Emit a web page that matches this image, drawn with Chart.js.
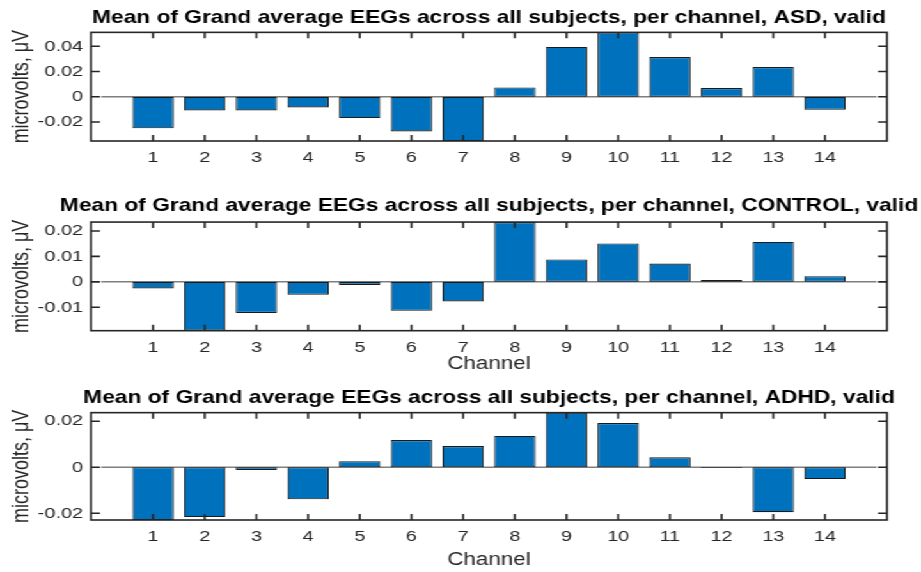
<!DOCTYPE html>
<html>
<head>
<meta charset="utf-8">
<script src="https://cdn.jsdelivr.net/npm/chart.js@4.4.1/dist/chart.umd.min.js"></script>
<style>
  html, body { margin: 0; padding: 0; background: #ffffff; width: 921px; height: 572px; overflow: hidden; }
  /* the figure is laid out 720px wide and widened to the page width */
  #figure { position: absolute; left: 0; top: 0; width: 720px; height: 572px;
            transform-origin: 0 0; transform: scaleX(1.27917); }
  #figure canvas { display: block; }
</style>
</head>
<body>
<div id="figure">
  <canvas id="asd" width="720" height="186"></canvas>
  <canvas id="control" width="720" height="192"></canvas>
  <canvas id="adhd" width="720" height="194"></canvas>
</div>
<script>
// EEG channels 1..14
const channels = [1, 2, 3, 4, 5, 6, 7, 8, 9, 10, 11, 12, 13, 14];
const channelLabels = ['1', '2', '3', '4', '5', '6', '7', '8', '9', '10', '11', '12', '13', '14'];

// mean of grand-average EEG per channel (microvolts)
const asdMeans     = [-0.0250, -0.0108, -0.0108, -0.0084, -0.0168, -0.0274, -0.0350,
                       0.0074,  0.0395,  0.0510,  0.0314,  0.0069,  0.0235, -0.0103];
const controlMeans = [-0.0026, -0.0192, -0.0122, -0.0051, -0.0012, -0.0114, -0.0077,
                       0.0235,  0.0088,  0.0151,  0.0072,  0.0007,  0.0157,  0.0022];
const adhdMeans    = [-0.0229, -0.0216, -0.0012, -0.0139,  0.0026,  0.0118,  0.0092,
                       0.0136,  0.0237,  0.0192,  0.0043, -0.0003, -0.0195, -0.0051];

const panelTitles = [
  'Mean of Grand average EEGs across all subjects, per channel, ASD, valid',
  'Mean of Grand average EEGs across all subjects, per channel, CONTROL, valid',
  'Mean of Grand average EEGs across all subjects, per channel, ADHD, valid'
];
const yAxisTitle = 'microvolts, μV';
const xAxisTitle = 'Channel';

// y tick values and their labels per panel
const asdTicks = [-0.02, 0, 0.02, 0.04];
const asdTickLabels = ['-0.02', '0', '0.02', '0.04'];
const controlTicks = [-0.01, 0, 0.01, 0.02];
const controlTickLabels = ['-0.01', '0', '0.01', '0.02'];
const adhdTicks = [-0.02, 0, 0.02];
const adhdTickLabels = ['-0.02', '0', '0.02'];

const INK = '#262626';
const BAR_FILL = '#0072BD';
const FONT = "'Liberation Sans', Arial, Helvetica, sans-serif";
Chart.defaults.font.family = FONT;

// box around the axes, inward tick marks on all four sides, and the zero baseline
const matlabAxes = {
  id: 'matlabAxes',
  beforeDatasetsDraw(chart) {
    const { ctx, scales: { x, y } } = chart;
    const y0 = y.getPixelForValue(0);
    ctx.save();
    ctx.strokeStyle = '#7f7f7f';
    ctx.lineWidth = 1.5;
    ctx.beginPath();
    ctx.moveTo(x.getPixelForValue(0), y0);
    ctx.lineTo(x.getPixelForValue(15), y0);
    ctx.stroke();
    ctx.restore();
  },
  afterDatasetsDraw(chart) {
    const { ctx, chartArea: a, scales: { x, y } } = chart;
    ctx.save();
    ctx.strokeStyle = INK;
    ctx.lineWidth = 1.6;
    ctx.beginPath();
    x.ticks.forEach(t => {
      const px = x.getPixelForValue(t.value);
      ctx.moveTo(px, a.bottom); ctx.lineTo(px, a.bottom - 6);
      ctx.moveTo(px, a.top);    ctx.lineTo(px, a.top + 6);
    });
    y.ticks.forEach(t => {
      const py = y.getPixelForValue(t.value);
      ctx.moveTo(a.left, py);  ctx.lineTo(a.left + 7, py);
      ctx.moveTo(a.right, py); ctx.lineTo(a.right - 7, py);
    });
    ctx.stroke();
    ctx.strokeRect(a.left, a.top, a.right - a.left, a.bottom - a.top);
    ctx.restore();
  }
};

function makePanel(canvasId, title, values, yTicks, yTickLabels, spec) {
  return new Chart(document.getElementById(canvasId), {
    type: 'bar',
    data: {
      datasets: [{
        data: values.map((v, i) => ({ x: channels[i], y: v })),
        backgroundColor: BAR_FILL,
        borderColor: '#1a1a1a',
        borderWidth: 1.1,
        borderSkipped: false,
        barPercentage: 0.8,
        categoryPercentage: 1.0,
        clip: 0
      }]
    },
    options: {
      responsive: false,
      animation: false,
      events: [],
      // the right padding is negative so the full-width title is centred over the plot box
      layout: { padding: { left: 0, right: -44.6, top: 0, bottom: 0 } },
      plugins: {
        legend: { display: false },
        tooltip: { enabled: false },
        title: {
          display: true,
          text: title,
          color: '#000000',
          font: { size: 17.8, weight: 'bold' },
          padding: { top: spec.titleTop, bottom: spec.titleBottom }
        }
      },
      scales: {
        x: {
          type: 'linear',
          min: -0.2,
          max: 15.2,
          offset: false,
          grid: { display: false, drawTicks: false },
          border: { display: false },
          ticks: {
            autoSkip: false, maxRotation: 0, padding: 7.3, color: INK,
            font: { size: 15.5 },
            callback: (v) => channelLabels[channels.indexOf(v)] ?? ''
          },
          afterBuildTicks: (s) => { s.ticks = channels.map(c => ({ value: c })); },
          afterFit: (s) => { s.height = spec.xHeight; },
          title: {
            display: spec.showXTitle, text: xAxisTitle, color: INK,
            font: { size: 17.5 }, padding: { top: 0, bottom: spec.xTitlePad }
          }
        },
        y: {
          position: 'left',
          min: Math.min(...values),
          max: Math.max(...values),
          grid: { display: false, drawTicks: false },
          border: { display: false },
          ticks: {
            padding: 6.2, color: INK, font: { size: 15.5 },
            callback: (v, i) => yTickLabels[i]
          },
          afterBuildTicks: (s) => { s.ticks = yTicks.map(v => ({ value: v })); },
          afterFit: (s) => { s.width = 71.14; },
          title: {
            display: true, text: yAxisTitle, color: INK,
            font: { size: 18 }, padding: { top: 6.4, bottom: 0 }
          }
        },
        yRight: {
          position: 'right',
          display: true,
          grid: { display: false, drawTicks: false },
          border: { display: false },
          ticks: { display: false },
          afterFit: (s) => { s.width = 71.2; }
        }
      }
    },
    plugins: [matlabAxes]
  });
}

makePanel('asd', panelTitles[0], asdMeans, asdTicks, asdTickLabels,
  { titleTop: 7.5, titleBottom: 3.5, xHeight: 45, showXTitle: false, xTitlePad: 0 });
makePanel('control', panelTitles[1], controlMeans, controlTicks, controlTickLabels,
  { titleTop: 9.5, titleBottom: 5.2, xHeight: 47.3, showXTitle: true, xTitlePad: 3.5 });
makePanel('adhd', panelTitles[2], adhdMeans, adhdTicks, adhdTickLabels,
  { titleTop: 9, titleBottom: 4.3, xHeight: 52, showXTitle: true, xTitlePad: 1.5 });
</script>
</body>
</html>
